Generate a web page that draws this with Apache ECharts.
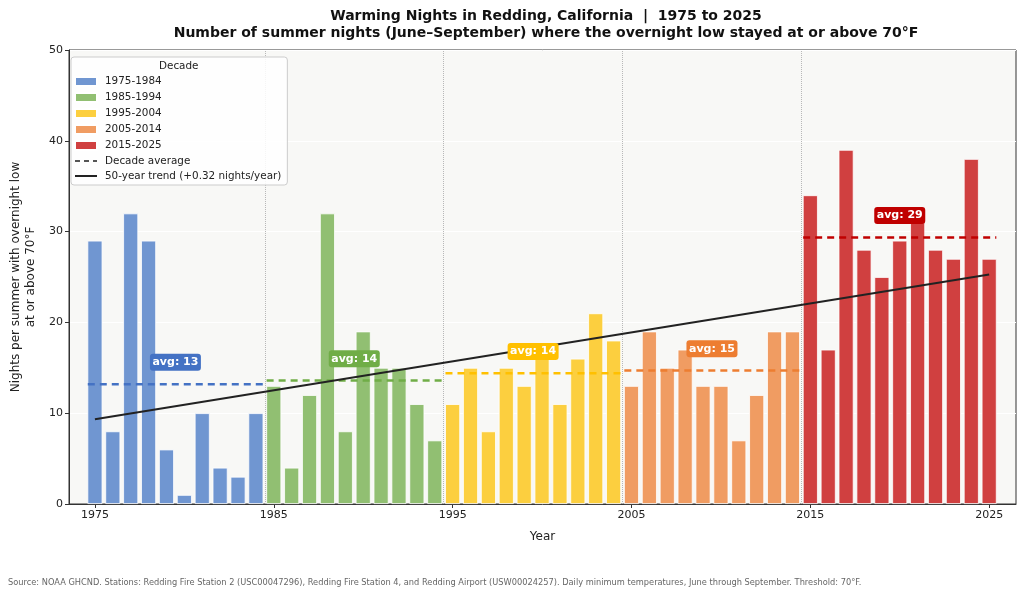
<!DOCTYPE html>
<html>
<head>
<meta charset="utf-8">
<script src="https://cdn.jsdelivr.net/npm/echarts@6/dist/echarts.min.js"></script>
<style>
  html, body { margin: 0; padding: 0; background: #fff; }
  #chart { width: 1024px; height: 596px; }
</style>
</head>
<body>
<div id="chart"></div>
<script>
// summer nights with low >= 70F, one value per year 1975..2025
var years = [];
for (var y = 1975; y <= 2025; y++) years.push(y);
var nights = [
  29, 8, 32, 29, 6, 1, 10, 4, 3, 10,
  13, 4, 12, 32, 8, 19, 15, 15, 11, 7,
  11, 15, 8, 15, 13, 16, 11, 16, 21, 18,
  13, 19, 15, 17, 13, 13, 7, 12, 19, 19,
  34, 17, 39, 28, 25, 29, 31, 28, 27, 38, 27
];
var decadeNames = ['1975-1984', '1985-1994', '1995-2004', '2005-2014', '2015-2025'];
var decadeStart = [1975, 1985, 1995, 2005, 2015];
var decadeEnd = [1984, 1994, 2004, 2014, 2025];
var barColors = ['#7096d1', '#91bf72', '#fccf3f', '#f09c62', '#d04040'];
var lineColors = ['#4472c4', '#70ad47', '#ffc000', '#ed7d31', '#c00000'];
var xTicks = [1975, 1985, 1995, 2005, 2015, 2025];

var chart = echarts.init(document.getElementById('chart'));

// linear trend over all years
var n = years.length, sx = 0, sy = 0, sxy = 0, sxx = 0;
for (var i = 0; i < n; i++) {
  sx += years[i]; sy += nights[i]; sxy += years[i] * nights[i]; sxx += years[i] * years[i];
}
var slope = (n * sxy - sx * sy) / (n * sxx - sx * sx);
var icpt = (sy - slope * sx) / n;
var trendName = '50-year trend (+' + slope.toFixed(2) + ' nights/year)';

var series = [];
var avgLabels = [];
decadeNames.forEach(function (name, d) {
  var data = [], sum = 0, cnt = 0;
  years.forEach(function (yr, i) {
    if (yr >= decadeStart[d] && yr <= decadeEnd[d]) {
      data.push([yr, nights[i]]); sum += nights[i]; cnt++;
    }
  });
  var avg = sum / cnt;
  series.push({
    name: name, type: 'bar', data: data, barWidth: 15, barGap: '-100%',
    itemStyle: { color: barColors[d], borderColor: '#ffffff', borderWidth: 0.8 },
    z: 2
  });
  series.push({
    name: 'avg' + d, type: 'line', symbol: 'none', z: 4,
    data: [[decadeStart[d] - 0.4, avg], [decadeEnd[d] + 0.4, avg]],
    lineStyle: { color: lineColors[d], width: 2.5, type: [7, 5] }
  });
  avgLabels.push({
    value: [(decadeStart[d] + decadeEnd[d]) / 2, avg + 2.4],
    name: 'avg: ' + Math.round(avg),
    itemStyle: { color: lineColors[d], opacity: 1 }
  });
});

series.push({
  name: 'Decade average', type: 'line', symbol: 'none', data: [],
  lineStyle: { color: '#555', width: 2, type: [5, 4] }, itemStyle: { color: '#555' }
});
series.push({
  name: trendName, type: 'line', symbol: 'none', z: 5,
  data: [[1975, icpt + slope * 1975], [2025, icpt + slope * 2025]],
  lineStyle: { color: '#222', width: 2 }, itemStyle: { color: '#222' },
  markLine: {
    silent: true, symbol: 'none', label: { show: false }, z: 1,
    lineStyle: { color: '#b8b8b8', type: 'dotted', width: 1 },
    data: [{ xAxis: 1984.5 }, { xAxis: 1994.5 }, { xAxis: 2004.5 }, { xAxis: 2014.5 }]
  }
});
// boxed "avg: N" tags
series.push({
  name: 'avgLabels', type: 'scatter', symbol: 'path://M3,0 H47 Q50,0 50,3 V14 Q50,17 47,17 H3 Q0,17 0,14 V3 Q0,0 3,0 Z',
  symbolSize: [51, 17], z: 6, data: avgLabels,
  itemStyle: { opacity: 1 },
  label: {
    show: true, position: 'inside', formatter: '{b}', color: '#fff',
    fontWeight: 'bold', fontSize: 11, fontFamily: 'DejaVu Sans'
  }
});

var legendData = decadeNames.map(function (nm) { return { name: nm, icon: 'rect' }; });
legendData.push({ name: 'Decade average', itemStyle: { opacity: 0 } });
legendData.push({ name: trendName, itemStyle: { opacity: 0 } });

var option = {
  animation: false,
  textStyle: { fontFamily: 'DejaVu Sans' },
  title: {
    text: 'Warming Nights in Redding, California  |  1975 to 2025\nNumber of summer nights (June\u2013September) where the overnight low stayed at or above 70\u00b0F',
    left: 541, top: 3, textAlign: 'center',
    textStyle: { fontSize: 14, fontWeight: 'bold', color: '#111', lineHeight: 17, fontFamily: 'DejaVu Sans' }
  },
  legend: {
    data: legendData, orient: 'vertical', left: 71, top: 57,
    itemWidth: 22, itemHeight: 9, itemGap: 5,
    padding: [19, 6, 4, 3],
    backgroundColor: 'rgba(255,255,255,0.85)', borderColor: '#cccccc', borderWidth: 1, borderRadius: 3,
    textStyle: { fontSize: 10.4, color: '#222', fontFamily: 'DejaVu Sans', padding: [0, 0, 0, 3] },
    selectedMode: false
  },
  graphic: [
    { type: 'text', left: 159, top: 61, z: 100,
      style: { text: 'Decade', fontSize: 10.4, fill: '#222', fontFamily: 'DejaVu Sans' } },
    { type: 'text', left: 8, top: 579,
      style: { text: 'Source: NOAA GHCND. Stations: Redding Fire Station 2 (USC00047296), Redding Fire Station 4, and Redding Airport (USW00024257). Daily minimum temperatures, June through September. Threshold: 70\u00b0F.',
               fontSize: 8.25, fill: '#666', fontFamily: 'DejaVu Sans' } }
  ],
  grid: {
    left: 66, right: 8, top: 50, bottom: 92, show: true,
    backgroundColor: '#f8f8f6', borderColor: '#333', borderWidth: 1
  },
  xAxis: {
    type: 'value', min: 1973.55, max: 2026.5,
    name: 'Year', nameLocation: 'middle', nameGap: 27,
    nameTextStyle: { fontSize: 12, color: '#222' },
    axisLine: { lineStyle: { color: '#333' } },
    axisTick: { show: true, length: 4, customValues: xTicks, lineStyle: { color: '#333' } },
    axisLabel: { customValues: xTicks, fontSize: 11, color: '#222', margin: 6,
                 formatter: function (v) { return String(Math.round(v)); } },
    splitLine: { show: false }
  },
  yAxis: {
    type: 'value', min: 0, max: 50, interval: 10,
    name: 'Nights per summer with overnight low\nat or above 70\u00b0F',
    nameLocation: 'middle', nameGap: 31,
    nameTextStyle: { fontSize: 12, color: '#222', lineHeight: 15 },
    axisLine: { show: true, lineStyle: { color: '#333' } },
    axisTick: { show: true, length: 4, lineStyle: { color: '#333' } },
    axisLabel: { fontSize: 11, color: '#222', margin: 6 },
    splitLine: { lineStyle: { color: '#ffffff', width: 1 } }
  },
  series: series
};
chart.setOption(option);
</script>
</body>
</html>
